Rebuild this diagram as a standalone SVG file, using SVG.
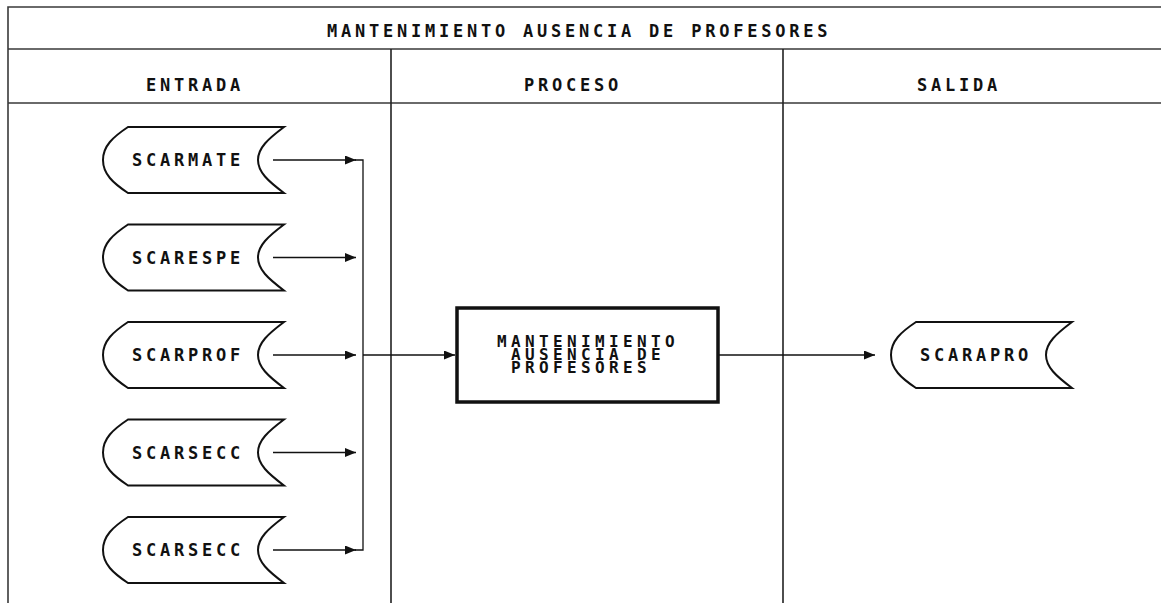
<svg xmlns="http://www.w3.org/2000/svg" width="1161" height="603" viewBox="0 0 1161 603">
<style>
.frame{fill:none;stroke:#3a3a3a;stroke-width:1.6}
.div{fill:none;stroke:#222;stroke-width:1.6}
.store{fill:#fff;stroke:#111;stroke-width:2}
.proc{fill:#fff;stroke:#111;stroke-width:3.5}
.conn{fill:none;stroke:#111;stroke-width:1.3}
text{font-family:"DejaVu Sans Mono","Liberation Mono",monospace;font-weight:bold;font-size:17px;letter-spacing:3.77px;fill:#111}
.lbl{font-size:16px;letter-spacing:4.37px}
</style>
<defs>
<path id="store" d="M25,-33 L181,-33 C165,-21 155,-12 155,0 C155,12 165,21 181,33 L25,33 C10,23 0,14 0,0 C0,-14 10,-23 25,-33 Z"/>
<marker id="ah" markerUnits="userSpaceOnUse" markerWidth="12" markerHeight="9" refX="11" refY="4.5" orient="auto">
<path d="M0,0 L11,4.5 L0,9 Z" fill="#111"/>
</marker>
</defs>
<g id="frame">
<path class="frame" d="M8,603 V7 H1161 M8,49 H1161 M8,103 H1161"/>
<path class="div" d="M391,49 V603 M783,49 V603"/>
<text x="327" y="37">MANTENIMIENTO AUSENCIA DE PROFESORES</text>
<text x="146" y="91">ENTRADA</text>
<text x="524" y="91">PROCESO</text>
<text x="917" y="91">SALIDA</text>
</g>
<g id="connectors">
<path class="conn" d="M273,160 H356" marker-end="url(#ah)"/>
<path class="conn" d="M273,257.5 H356" marker-end="url(#ah)"/>
<path class="conn" d="M273,355 H356" marker-end="url(#ah)"/>
<path class="conn" d="M273,452.5 H356" marker-end="url(#ah)"/>
<path class="conn" d="M273,550 H356" marker-end="url(#ah)"/>
<path class="conn" d="M355,160 H363 V550 H355"/>
<path class="conn" d="M363,355 H455" marker-end="url(#ah)"/>
<path class="conn" d="M719,355 H875" marker-end="url(#ah)"/>
</g>
<g id="n-scarmate">
<use href="#store" class="store" transform="translate(103,160)"/>
<text x="132" y="166">SCARMATE</text>
</g>
<g id="n-scarespe">
<use href="#store" class="store" transform="translate(103,257.5)"/>
<text x="132" y="263.5">SCARESPE</text>
</g>
<g id="n-scarprof">
<use href="#store" class="store" transform="translate(103,355)"/>
<text x="132" y="361">SCARPROF</text>
</g>
<g id="n-scarsecc1">
<use href="#store" class="store" transform="translate(103,452.5)"/>
<text x="132" y="458.5">SCARSECC</text>
</g>
<g id="n-scarsecc2">
<use href="#store" class="store" transform="translate(103,550)"/>
<text x="132" y="556">SCARSECC</text>
</g>
<g id="n-proceso">
<rect class="proc" x="457" y="308" width="261" height="94"/>
<text class="lbl" x="497" y="347">MANTENIMIENTO</text>
<text class="lbl" x="511" y="360">AUSENCIA DE</text>
<text class="lbl" x="511" y="373">PROFESORES</text>
</g>
<g id="n-scarapro">
<use href="#store" class="store" transform="translate(891,355)"/>
<text x="920" y="361">SCARAPRO</text>
</g>
</svg>
